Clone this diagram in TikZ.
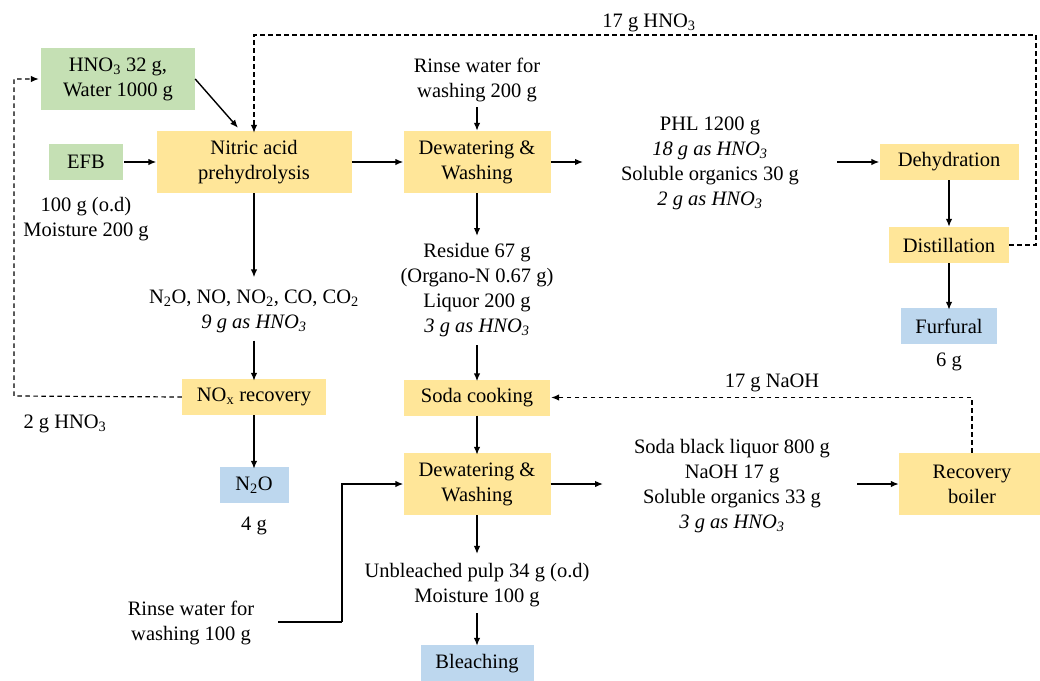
\documentclass[tikz,border=0pt]{standalone}
\usepackage{fontspec}
\setmainfont{Liberation Serif}
\usetikzlibrary{arrows.meta,calc}
\definecolor{boxY}{HTML}{FFE699}
\definecolor{boxG}{HTML}{C5E0B4}
\definecolor{boxB}{HTML}{BDD7EE}
\newcommand{\sbt}[1]{\textsubscript{#1}}
\begin{document}
\begin{tikzpicture}[x=1pt,y=-1pt,
  every node/.style={font=\fontsize{20.5}{25}\selectfont, align=center, inner sep=0pt, text=black},
  ybox/.style={fill=boxY},
  gbox/.style={fill=boxG},
  bbox/.style={fill=boxB},
  arr/.style={line width=1.4pt, -{Latex[length=8pt,width=6.5pt]}},
  plain/.style={line width=1.4pt},
  dsh/.style={line width=1.2pt, dash pattern=on 4.5pt off 3.5pt},
  dasharr/.style={dsh, -{Latex[length=8pt,width=6.5pt]}}]
\useasboundingbox (0,0) rectangle (1040,680);
\clip (0,0) rectangle (1040,680);

% boxes
\node[gbox, minimum width=154, minimum height=62] (hno3) at (118,79) {HNO\sbt{3} 32 g,\\Water 1000 g};
\node[gbox, minimum width=74, minimum height=36] (efb) at (86,162) {EFB};
\node[ybox, minimum width=195, minimum height=62] (nitric) at (254,162) {Nitric acid\\prehydrolysis};
\node[ybox, minimum width=147, minimum height=62] (dew1) at (477,162) {Dewatering \&\\Washing};
\node[ybox, minimum width=139, minimum height=36] (dehyd) at (949,162) {Dehydration};
\node[ybox, minimum width=120, minimum height=36] (distil) at (949,245) {Distillation};
\node[bbox, minimum width=96, minimum height=36] (furf) at (949,326) {Furfural};
\node[ybox, minimum width=144, minimum height=36] (nox) at (254,397) {NO\sbt{x} recovery};
\node[ybox, minimum width=146, minimum height=36] (soda) at (477,397.5) {Soda cooking};
\node[bbox, minimum width=69, minimum height=36] (n2o) at (254,485) {N\sbt{2}O};
\node[ybox, minimum width=147, minimum height=62] (dew2) at (477,484) {Dewatering \&\\Washing};
\node[ybox, minimum width=146, minimum height=62] (boiler) at (972,484) {Recovery\\boiler};
\node[bbox, minimum width=113, minimum height=38] (bleach) at (477,664) {Bleaching};

% text nodes
\node (efbtxt) at (86,219) {100 g (o.d)\\Moisture 200 g};
\node (rinse1) at (477,80) {Rinse water for\\washing 200 g};
\node (phl) at (710,163) {PHL 1200 g\\\textit{18 g as HNO\sbt{3}}\\Soluble organics 30 g\\\textit{2 g as HNO\sbt{3}}};
\node (gases) at (254,311) {N\sbt{2}O, NO, NO\sbt{2}, CO, CO\sbt{2}\\\textit{9 g as HNO\sbt{3}}};
\node (residue) at (477,290) {Residue 67 g\\(Organo-N 0.67 g)\\Liquor 200 g\\\textit{3 g as HNO\sbt{3}}};
\node (liquor) at (732,486) {Soda black liquor 800 g\\NaOH 17 g\\Soluble organics 33 g\\\textit{3 g as HNO\sbt{3}}};
\node (unbl) at (477,585) {Unbleached pulp 34 g (o.d)\\Moisture 100 g};
\node (rinse2) at (191,623) {Rinse water for\\washing 100 g};
\node (lblA) at (649,23) {17 g HNO\sbt{3}};
\node (lblB) at (65,424) {2 g HNO\sbt{3}};
\node (lblC) at (772,383) {17 g NaOH};
\node (lblD) at (949,362) {6 g};
\node (lblE) at (254,526) {4 g};

% helper coordinates
\coordinate (dew1out) at (583,162);
\coordinate (phlout) at (837,162);
\coordinate (dew2out) at (603,484);
\coordinate (liqout) at (857,484);
\coordinate (tr) at (1036,35);
\coordinate (tl) at (254,35);
\coordinate (lb) at (14,396);
\coordinate (lt) at (14,79);
\coordinate (rb) at (972,397.5);
\coordinate (r2a) at (278,622);
\coordinate (r2b) at (342,622);

% solid connectors
\draw[arr] (hno3.east) -- ($(nitric.north)+(-16,-3)$);
\draw[arr] ([xshift=1pt]efb.east) -- (nitric.west);
\draw[arr] (nitric.east) -- (dew1.west);
\draw[arr] ($(rinse1.south)+(0,5)$) -- (dew1.north);
\draw[arr] (dew1.east) -- (dew1out);
\draw[arr] (phlout) -- (dehyd.west);
\draw[arr] (dehyd.south) -- (distil.north);
\draw[arr] (distil.south) -- ([yshift=-2pt]furf.north);
\draw[arr] (nitric.south) -- ($(nitric.south |- gases.north)+(0,-12)$);
\draw[arr] ($(gases.south)+(0,8)$) -- ([yshift=-2pt]nox.north);
\draw[arr] (nox.south) -- ([yshift=-2pt]n2o.north);
\draw[arr] (dew1.south) -- ($(dew1.south |- residue.north)+(0,-7)$);
\draw[arr] ($(residue.south)+(0,8)$) -- ([yshift=-2pt]soda.north);
\draw[arr] (soda.south) -- ([yshift=-2pt]dew2.north);
\draw[arr] (dew2.east) -- (dew2out);
\draw[arr] (liqout) -- (boiler.west);
\draw[arr] (dew2.south) -- ($(dew2.south |- unbl.north)+(0,-9)$);
\draw[arr] ($(unbl.south)+(0,6)$) -- ([yshift=-1pt]bleach.north);
\draw[plain] (r2a) -- (r2b);
\draw[arr] (r2b) |- (dew2.west);

% dashed recycles
\draw[dasharr] (distil.east) -| (tr) -- (tl) -- ([yshift=-2pt]nitric.north);
\draw[dasharr] (nox.west) -- (lb) -- (lt) -- ([xshift=-2pt]hno3.west);
\draw[dasharr] (boiler.north) -- (rb) -- ([xshift=1pt]soda.east);
\end{tikzpicture}
\end{document}
